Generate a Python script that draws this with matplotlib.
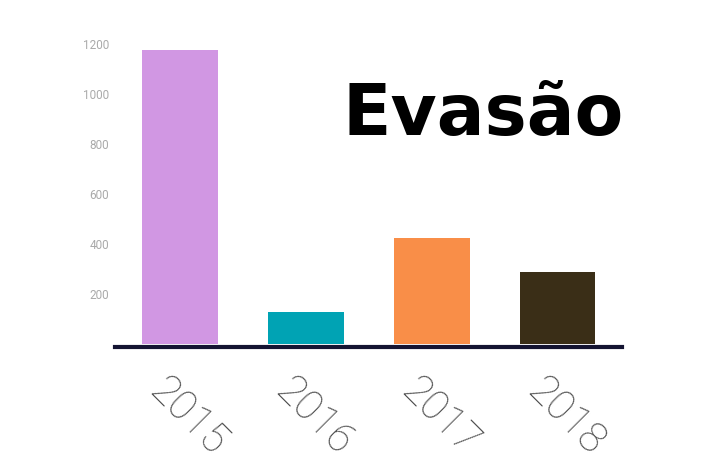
import matplotlib
matplotlib.use("Agg")
import matplotlib.pyplot as plt
import matplotlib.transforms as mtransforms

categories = ["2015", "2016", "2017", "2018"]
values = [1175, 130, 425, 290]
colors = ["#D197E3", "#00A3B4", "#F98E48", "#3A2E17"]
yticks = [200, 400, 600, 800, 1000, 1200]
title = "Evasão"

fig = plt.figure(figsize=(7.13, 4.63), dpi=100)
ax = fig.add_axes([0.161, 0.2505, 0.711, 0.6545])
x = list(range(len(categories)))
ax.bar(x, values, width=0.6, color=colors, zorder=2)
ax.set_xlim(-0.52, 3.51)
ax.set_ylim(-12, 1200)

for s in ["top", "right", "left"]:
    ax.spines[s].set_visible(False)
ax.spines["bottom"].set_color("#141432")
ax.spines["bottom"].set_linewidth(3)

ax.set_yticks(yticks)
ax.set_yticklabels([str(v) for v in yticks], color="#AAAAAA", fontsize=8.5, family="Roboto")
ax.tick_params(axis="y", length=0, pad=4)

ax.set_xticks(x)
ax.set_xticklabels(categories, rotation=-45, ha="center", va="top",
                   color="#505050", fontsize=30, family="Roboto", fontweight="light")
ax.tick_params(axis="x", length=0, pad=17)
offset = mtransforms.ScaledTranslation(8 / 100, 0, fig.dpi_scale_trans)
for lab in ax.get_xticklabels():
    lab.set_transform(lab.get_transform() + offset)

fig.text(483 / 713, 1 - 116 / 463, title, ha="center", va="center",
         fontsize=51, fontweight="bold", family="DejaVu Sans", color="black")

fig.savefig("out.png", dpi=100, facecolor="white")
